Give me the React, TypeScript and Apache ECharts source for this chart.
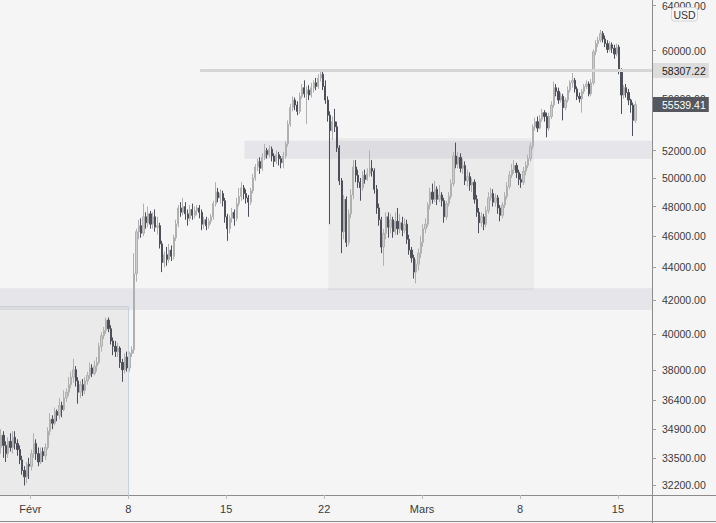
import React, { useEffect, useRef } from 'react';
import * as echarts from 'echarts';

// 4h candles, [open, close, low, high]; candle 0 = 29 Jan 20:00
const jan29Candles: number[][] = [
  [34000,34600,33700,34900],
  [34600,34100,33500,34800],[34100,33700,33300,34300],[33700,34300,33500,34500],[34300,34000,33800,34700],[34000,34500,33700,34800],[34500,34200,33900,34800],
  [34200,33900,33600,34400],[33900,33400,33200,34100],[33400,32900,32700,33600],[32900,32600,32200,33100],[32600,33200,32300,33300],[33200,33100,32500,33500],
];
const feb1Candles: number[][] = [
  [33100,33700,32900,33900],[33700,34200,33500,34700],[34200,33700,33400,34400],[33700,33300,33100,34000],[33300,33800,33200,34000],[33800,33600,33300,34000],
  [33600,34000,33400,34200],[34000,34800,33900,35000],[34800,35400,34600,35700],[35400,35200,34900,35600],[35200,35800,35100,36000],[35800,35600,35300,35900],
  [35600,36100,35400,36500],[36100,35900,35500,36300],[35900,36500,35800,36900],[36500,36800,36300,37000],[36800,37200,36600,37600],[37200,37600,37000,37900],
  [37600,38000,37300,38600],[38000,37400,37100,38200],[37400,36800,36200,37600],[36800,37200,36500,37400],[37200,36900,36600,37500],[36900,37400,36700,37600],
  [37400,37700,37200,37900],[37700,38100,37500,38400],[38100,37800,37600,38300],[37800,38200,37700,38500],[38200,38400,37900,38700],[38400,39300,38300,39500],
  [39300,39900,39000,40100],[39900,40200,39700,40400],[40200,40800,40000,40950],[40800,40300,40100,40950],[40300,39600,39400,40500],[39600,39300,38800,39800],
  [39300,39000,38700,39600],[39000,39200,38700,39500],[39200,38400,38100,39300],[38400,38000,37350,38600],[38000,38700,37800,38900],[38700,38100,37900,39000],
];
const feb8Candles: number[][] = [
  [38100,38900,37900,39000],[38900,39100,38700,39300],[39100,43600,38900,44900],[43600,46300,43100,46500],[46300,46700,45800,47100],[46700,46200,45900,47200],
  [46200,47300,46000,48200],[47300,46900,46500,47600],[46900,47500,46600,48000],[47500,46800,46500,47700],[46800,47300,46500,47600],[47300,46600,46300,47800],
  [46600,46700,46100,47300],[46700,45500,45200,46900],[45500,44300,43700,45700],[44300,44800,44000,45000],[44800,44500,44100,45300],[44500,45100,44300,45500],
  [45100,44700,44400,45400],[44700,45900,44500,46100],[45900,46800,45700,47100],[46800,47900,46600,48100],[47900,47600,47300,48300],[47600,48000,47400,48600],
  [48000,47500,47100,48300],[47500,47200,46700,47800],[47200,47800,47000,48100],[47800,47400,47100,48200],[47400,47700,47200,48000],[47700,47900,47400,48100],
  [47900,47600,47200,48100],[47600,46800,46400,47800],[46800,47100,46500,47300],[47100,46700,46400,47300],[46700,47000,46500,47200],[47000,47300,46800,47500],
  [47300,48200,47100,48400],[48200,49000,48000,49700],[49000,48600,48300,49300],[48600,48900,48200,49200],[48900,48400,48000,49100],[48400,47300,46900,48600],
];
const feb15Candles: number[][] = [
  [47300,46500,45700,47500],[46500,47200,46200,47400],[47200,47600,46900,47900],[47600,47200,46700,47800],[47200,48200,47000,48600],[48200,48700,48000,49300],
  [48700,49300,48400,49700],[49300,48900,48500,49500],[48900,48600,48200,49200],[48600,48300,47300,48800],[48300,49100,48100,49300],[49100,50000,48900,50300],
  [50000,50800,49800,51000],[50800,51200,50500,51400],[51200,50700,50300,51500],[50700,51500,50500,51800],[51500,52000,51300,52500],[52000,51700,51400,52200],
  [51700,52100,51500,52400],[52100,51600,51200,52300],[51600,51200,50800,51800],[51200,51700,51000,52000],[51700,51400,50900,51900],[51400,51100,50700,51600],
  [51100,51600,50700,51900],[51600,52500,51400,52700],[52500,54000,52300,54300],[54000,55300,53800,55600],[55300,55900,55000,56200],[55900,55500,55100,56100],
  [55500,55000,54700,55800],[55000,56200,54800,56500],[56200,56900,56000,57200],[56900,56400,56100,57500],[56400,56700,54000,57000],[56700,56300,55900,57100],
  [56300,56900,56100,57300],[56900,57300,56500,57500],[57300,57000,56700,57700],[57000,57700,56800,58000],[57700,58000,57400,58300],[58000,57000,56700,58200],
];
const feb22Candles: number[][] = [
  [57000,55900,55600,57500],[55900,54700,54200,56200],[54700,53500,46800,55000],[53500,54200,52800,54600],[54200,53800,53400,55200],[53800,52200,51900,54200],
  [52200,49800,49500,52400],[49800,46300,44900,50000],[46300,48500,45800,48800],[48500,45600,45300,48700],[45600,47500,45400,47800],[47500,48800,47200,49200],
  [48800,50800,48500,51300],[50800,50200,49700,51300],[50200,49700,49300,50600],[49700,49300,48400,50000],[49300,50200,49100,50500],[50200,49900,49600,50600],
  [49900,50300,49800,50700],[50300,50700,50100,52000],[50700,50500,50100,51300],[50500,49200,48900,50700],[49200,47900,47500,49500],[47900,47100,46700,48200],
  [47100,45300,44900,47300],[45300,46200,44100,46500],[46200,47300,45800,47600],[47300,46600,45900,47600],[46600,47100,46200,47500],[47100,46300,45900,47300],
  [46300,47000,46100,47600],[47000,46500,46100,47900],[46500,46900,46200,47500],[46900,46400,46000,47300],[46400,46800,46200,47200],[46800,45800,45500,47100],
  [45800,45100,44800,46100],[45100,44600,44300,45300],[44600,43700,43300,44800],[43700,44200,43000,44500],[44200,44900,43800,45200],[44900,45600,44600,46000],
];
const mar1Candles: number[][] = [
  [45600,46500,45300,46800],[46500,46800,46200,47200],[46800,48100,46600,48300],[48100,49000,47800,49300],[49000,48500,48200,49600],[48500,49200,48300,49800],
  [49200,48500,48100,49400],[48500,48800,48300,49500],[48800,48400,48000,49000],[48400,47300,46900,48600],[47300,48200,47100,48400],[48200,48700,48000,49000],
  [48700,49600,48500,49900],[49600,51600,49400,51900],[51600,51000,50700,52600],[51000,51500,50700,51900],[51500,50700,50400,51800],[50700,50900,50300,51400],
  [50900,49800,49500,51200],[49800,50100,49400,50600],[50100,49500,49100,50400],[49500,49700,49000,50000],[49700,48500,48200,49900],[48500,47600,47300,48800],
  [47600,46900,46200,47900],[46900,47300,46600,47600],[47300,46800,46400,47500],[46800,47700,46600,48000],[47700,48600,47500,49000],[48600,48900,48400,49300],
  [48900,48300,48000,49200],[48300,48600,48000,48900],[48600,47900,47500,48800],[47900,47400,47000,48100],[47400,48100,47200,48300],[48100,48700,47900,49000],
  [48700,49400,48500,49700],[49400,50200,49200,50500],[50200,50600,50000,51000],[50600,50900,50300,51300],[50900,50400,50000,51100],[50400,49900,49500,50600],
];
const mar8Candles: number[][] = [
  [49900,49700,49300,50300],[49700,50500,49500,50800],[50500,50900,50200,51200],[50900,51400,50700,51700],[51400,52300,51200,52600],[52300,53800,52100,54000],
  [53800,54200,53500,54500],[54200,53700,53400,54600],[53700,54400,53600,54700],[54400,54900,54200,55200],[54900,54600,54200,55100],[54600,53700,53000,54900],
  [53700,54600,53500,54900],[54600,55500,54400,55800],[55500,56900,55300,57400],[56900,56600,56200,57200],[56600,55900,55600,56900],[55900,56200,55700,56500],
  [56200,55300,54300,56400],[55300,55900,55100,56100],[55900,56700,55700,57000],[56700,57300,56500,57500],[57300,57500,56900,58100],[57500,56800,56500,57700],
  [56800,56200,55900,57000],[56200,56000,55700,56500],[56000,56600,54900,56800],[56600,57000,56400,57200],[57000,57200,56800,57500],[57200,56400,56200,57400],
  [56400,57300,56200,57600],[57300,59900,57100,60100],[59900,60600,59600,60900],[60600,60900,60300,61200],[60900,61500,60700,61800],[61500,61000,60700,61700],
  [61000,60600,60300,61300],[60600,60100,59800,60900],[60100,60500,59900,60800],[60500,60200,59800,60700],[60200,59700,59300,60500],[59700,60300,59500,60600],
];
const mar15Candles: number[][] = [
  [60300,58300,58000,60500],[58300,56300,54800,58500],[56300,56900,56000,57100],[56900,56500,56100,57200],[56500,55900,55500,56800],[55900,55500,54900,56000],
  [55500,54300,53100,55700],[54300,55539.41,54100,55800],
];

const yTickPrices = [64000, 60000, 56000, 52000, 50000, 48000, 46000, 44000, 42000, 40000, 38000, 36400, 34900, 33500, 32200];
const xTickCandles = [13, 55, 97, 139, 181, 223, 265];
const xTickNames = ['Févr', '8', '15', '22', 'Mars', '8', '15'];

const priceMin = 31765;
const priceMax = 64490;
const candleSpan = 279.6;

const resistancePrice = 58307.22;
const resistanceFrom = 85.8;
const lastPrice = 55539.41;

// zones: [fromCandle, toCandle, lowPrice, highPrice]
const leftBoxZone = [0, 55, priceMin, 41600];
const lowBandZone = [0, candleSpan, 41400, 42700];
const midBoxZone = [140.8, 229, 42580, 52940];
const highBandZone = [104.8, candleSpan, 51400, 52740];

const FONT = '"Liberation Sans", Arial, sans-serif';

export default function App() {
  const ref = useRef<HTMLDivElement>(null);
  useEffect(() => {
    if (!ref.current) return;
    const chart = echarts.init(ref.current, null, { renderer: 'svg' });
    const candles = ([] as number[][]).concat(
      jan29Candles, feb1Candles, feb8Candles, feb15Candles, feb22Candles, mar1Candles, mar8Candles, mar15Candles
    );
    const data = candles.map((c, i) => [i + 0.5, Math.log(c[0]), Math.log(c[1]), Math.log(c[2]), Math.log(c[3])]);
    const L = Math.log;
    const zone = (z: number[], style: any) => [
      { xAxis: z[0], yAxis: L(z[2]), itemStyle: style },
      { xAxis: z[1], yAxis: L(z[3]) },
    ];
    const edgeStyle = { color: '#c7d0dc', width: 1, type: 'solid' };
    const noLabel = { show: false };
    const yTicks = yTickPrices.map(L);
    const priceTag = (bg: string, fg: string, text: string) => ({
      show: true,
      position: 'end',
      distance: 1,
      formatter: text,
      color: fg,
      backgroundColor: bg,
      padding: [2, 3, 1, 9],
      lineHeight: 12,
      fontSize: 10.5,
      fontFamily: FONT,
    });
    const option: any = {
      animation: false,
      backgroundColor: '#f5f5f5',
      grid: { left: 0, right: 64, top: 0, bottom: 28 },
      xAxis: {
        type: 'value',
        min: 0,
        max: candleSpan,
        axisLine: { show: true, onZero: false, lineStyle: { color: '#8c8c8c', width: 1 } },
        axisTick: { show: true, customValues: xTickCandles, length: 4, lineStyle: { color: '#bdbdbd' } },
        axisLabel: {
          customValues: xTickCandles,
          margin: 8,
          color: '#3a3a3a',
          fontSize: 11,
          fontFamily: FONT,
          formatter: (v: number) => {
            const k = xTickCandles.indexOf(Math.round(v));
            return k >= 0 ? xTickNames[k] : '';
          },
        },
        splitLine: { show: false },
      },
      yAxis: {
        type: 'value',
        position: 'right',
        min: L(priceMin),
        max: L(priceMax),
        axisLine: { show: true, onZero: false, lineStyle: { color: '#8c8c8c', width: 1 } },
        axisTick: { show: true, customValues: yTicks, length: 4, lineStyle: { color: '#9a9a9a' } },
        axisLabel: {
          customValues: yTicks,
          margin: 10,
          color: '#3a3a3a',
          fontSize: 10.5,
          fontFamily: FONT,
          formatter: (v: number) => Math.exp(v).toFixed(2),
        },
        splitLine: { show: false },
      },
      series: [
        {
          type: 'candlestick',
          data,
          barWidth: 1.7,
          clip: false,
          itemStyle: {
            color: '#cdcdcd',
            borderColor: '#b0b0b0',
            color0: '#4e5059',
            borderColor0: '#4e5059',
            borderWidth: 1,
          },
          markArea: {
            silent: true,
            data: [
              zone(lowBandZone, { color: 'rgba(60,70,110,0.08)' }),
              zone(leftBoxZone, { color: 'rgba(0,0,0,0.045)' }),
              zone(midBoxZone, { color: 'rgba(0,0,0,0.04)' }),
              zone(highBandZone, { color: 'rgba(60,70,110,0.08)' }),
            ],
          },
          markLine: {
            silent: true,
            symbol: ['none', 'none'],
            data: [
              [
                { coord: [leftBoxZone[0], L(leftBoxZone[3])], lineStyle: edgeStyle, label: noLabel },
                { coord: [leftBoxZone[1], L(leftBoxZone[3])] },
              ],
              [
                { coord: [leftBoxZone[1], L(leftBoxZone[2])], lineStyle: edgeStyle, label: noLabel },
                { coord: [leftBoxZone[1], L(leftBoxZone[3])] },
              ],
              [
                {
                  coord: [resistanceFrom, L(resistancePrice)],
                  lineStyle: { color: '#d6d6d6', width: 3, type: 'solid' },
                  label: priceTag('#dcdcdc', '#222222', resistancePrice.toFixed(2)),
                },
                { coord: [candleSpan, L(resistancePrice)] },
              ],
              [
                {
                  coord: [candleSpan - 0.5, L(lastPrice)],
                  lineStyle: { color: 'rgba(0,0,0,0)', width: 1, type: 'solid' },
                  label: priceTag('#55585f', '#ffffff', lastPrice.toFixed(2)),
                },
                { coord: [candleSpan, L(lastPrice)] },
              ],
            ],
          },
        },
      ],
      graphic: [
        { type: 'line', shape: { x1: 652, y1: 495.5, x2: 716, y2: 495.5 }, style: { stroke: '#8c8c8c', lineWidth: 1 } },
        { type: 'line', shape: { x1: 652.5, y1: 495, x2: 652.5, y2: 523 }, style: { stroke: '#8c8c8c', lineWidth: 1 } },
        { type: 'line', shape: { x1: 0, y1: 521.5, x2: 716, y2: 521.5 }, style: { stroke: '#8c8c8c', lineWidth: 1 } },
        {
          type: 'rect',
          z: 100,
          shape: { x: 671.5, y: 7.5, width: 26, height: 13.5, r: 3 },
          style: { fill: '#f7f7f7', stroke: '#d4d4d4', lineWidth: 1 },
        },
        {
          type: 'text',
          z: 101,
          style: { text: 'USD', x: 684.5, y: 14.5, align: 'center', verticalAlign: 'middle', fontSize: 10.5, fontFamily: FONT, fill: '#333' },
        },
      ],
    };
    chart.setOption(option);
    return () => chart.dispose();
  }, []);
  return (
    <div
      ref={ref}
      style={{ position: 'fixed', left: 0, top: 0, width: 716, height: 523, background: '#f5f5f5' }}
    />
  );
}
